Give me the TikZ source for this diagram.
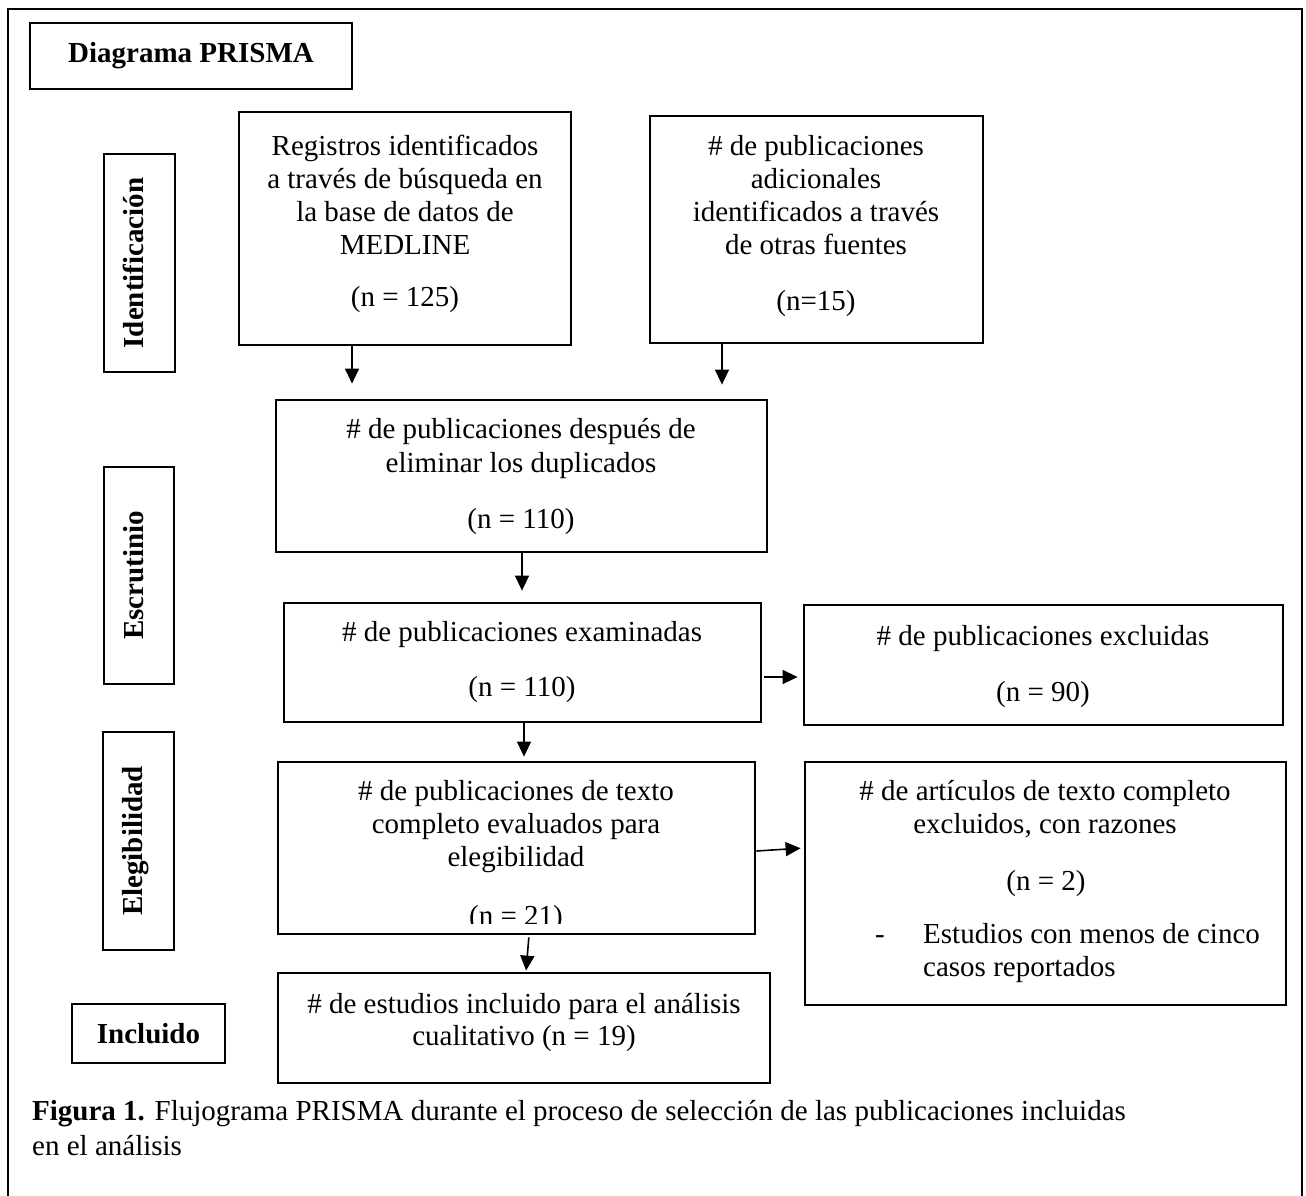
\documentclass[tikz,border=0pt]{standalone}
\usepackage{fontspec}
\setmainfont{Liberation Serif}
\usetikzlibrary{arrows.meta,fit}
\tikzset{
  box/.style={draw, line width=2.8pt, inner sep=0pt},
  lbl/.style={font=\fontsize{29}{33}\selectfont, inner sep=0pt, anchor=base},
  blbl/.style={font=\fontsize{29}{33}\selectfont\bfseries, inner sep=0pt},
  vlbl/.style={font=\fontsize{29}{33}\selectfont\bfseries, inner sep=0pt, rotate=90, anchor=base},
  arr/.style={-{Triangle[length=15pt,width=14pt]}, line width=1.6pt}
}
\begin{document}
\begin{tikzpicture}[x=1pt,y=-1pt]
\useasboundingbox (0,0) rectangle (1306,1196);
\fill[white] (0,0) rectangle (1306,1196);
% outer frame
\draw[line width=2pt] (8,1200) -- (8,9) -- (1302,9) -- (1302,1200);

% boxes
\node[box, fit={(30,23)(352,89)}] (title) {};
\node[box, fit={(104,154)(175,372)}] (idl) {};
\node[box, fit={(239,112)(571,345)}] (reg) {};
\node[box, fit={(650,116)(983,343)}] (add) {};
\node[box, fit={(276,400)(767,552)}] (dup) {};
\node[box, fit={(104,467)(174,684)}] (escl) {};
\node[box, fit={(284,603)(761,722)}] (exa) {};
\node[box, fit={(804,605)(1283,725)}] (exc) {};
\node[box, fit={(103,732)(174,950)}] (elel) {};
\node[box, fit={(278,762)(755,934)}] (eva) {};
\node[box, fit={(805,762)(1286,1005)}] (raz) {};
\node[box, fit={(72,1004)(225,1063)}] (incl) {};
\node[box, fit={(278,973)(770,1083)}] (fin) {};

% labels
\node[blbl] (ttitle) at (title.center) {Diagrama PRISMA};
\node[vlbl] (tidl) at (143,263) {Identificación};
\node[vlbl] (tescl) at (143,575.5) {Escrutinio};
\node[vlbl] (telel) at (142,841) {Elegibilidad};
\node[blbl] (tincl) at (incl.center) {Incluido};

% Registros
\node[lbl] (reg1) at (405,155) {Registros identificados};
\node[lbl] (reg2) at (405,188) {a través de búsqueda en};
\node[lbl] (reg3) at (405,221) {la base de datos de};
\node[lbl] (reg4) at (405,254) {MEDLINE};
\node[lbl] (reg5) at (405,306) {(n = 125)};

% Adicionales
\node[lbl] (add1) at (816,155) {\# de publicaciones};
\node[lbl] (add2) at (816,188) {adicionales};
\node[lbl] (add3) at (816,221) {identificados a través};
\node[lbl] (add4) at (816,254) {de otras fuentes};
\node[lbl] (add5) at (816,310) {(n=15)};

% Duplicados
\node[lbl] (dup1) at (521,438) {\# de publicaciones después de};
\node[lbl] (dup2) at (521,472) {eliminar los duplicados};
\node[lbl] (dup3) at (521,528) {(n = 110)};

% Examinadas
\node[lbl] (exa1) at (522,641) {\# de publicaciones examinadas};
\node[lbl] (exa2) at (522,696) {(n = 110)};

% Excluidas
\node[lbl] (exc1) at (1043,645) {\# de publicaciones excluidas};
\node[lbl] (exc2) at (1043,701) {(n = 90)};

% Evaluados
\node[lbl] (eva1) at (516,800) {\# de publicaciones de texto};
\node[lbl] (eva2) at (516,833) {completo evaluados para};
\node[lbl] (eva3) at (516,866) {elegibilidad};
\begin{scope}
\clip (278,762) rectangle (755,923);
\node[lbl] (eva4) at (516,925) {(n = 21)};
\end{scope}

% Razones
\node[lbl] (raz1) at (1045,800) {\# de artículos de texto completo};
\node[lbl] (raz2) at (1045,833) {excluidos, con razones};
\node[lbl] (raz3) at (1046,890) {(n = 2)};
\node[lbl] (raz4) at (880,943) {-};
\node[lbl, anchor=base west] (raz5) at (923,943) {Estudios con menos de cinco};
\node[lbl, anchor=base west] (raz6) at (923,976) {casos reportados};

% Final
\node[lbl] (fin1) at (524,1013) {\# de estudios incluido para el análisis};
\node[lbl] (fin2) at (524,1045) {cualitativo (n = 19)};

% Caption
\node[lbl, anchor=base west] (cap1) at (32,1120) {\textbf{Figura 1.} Flujograma PRISMA durante el proceso de selección de las publicaciones incluidas};
\node[lbl, anchor=base west] (cap2) at (32,1155) {en el análisis};

% arrows
\draw[arr, shorten >=15pt] (352,0 |- reg.south) -- (352,0 |- dup.north);
\draw[arr, shorten >=14pt] (722,0 |- add.south) -- (722,0 |- dup.north);
\draw[arr, shorten >=11pt] (522,0 |- dup.south) -- (522,0 |- exa.north);
\draw[arr, shorten <=2pt, shorten >=5pt] (exa.east |- 0,677) -- (exc.west |- 0,677);
\draw[arr, shorten >=4pt] (524,0 |- exa.south) -- (524,0 |- eva.north);
\draw[arr, shorten >=3pt] (eva.east |- 0,851) -- (raz.west |- 0,848);
\draw[arr, shorten <=2pt, shorten >=1pt] (529,0 |- eva.south) -- (526,0 |- fin.north);
\end{tikzpicture}
\end{document}
